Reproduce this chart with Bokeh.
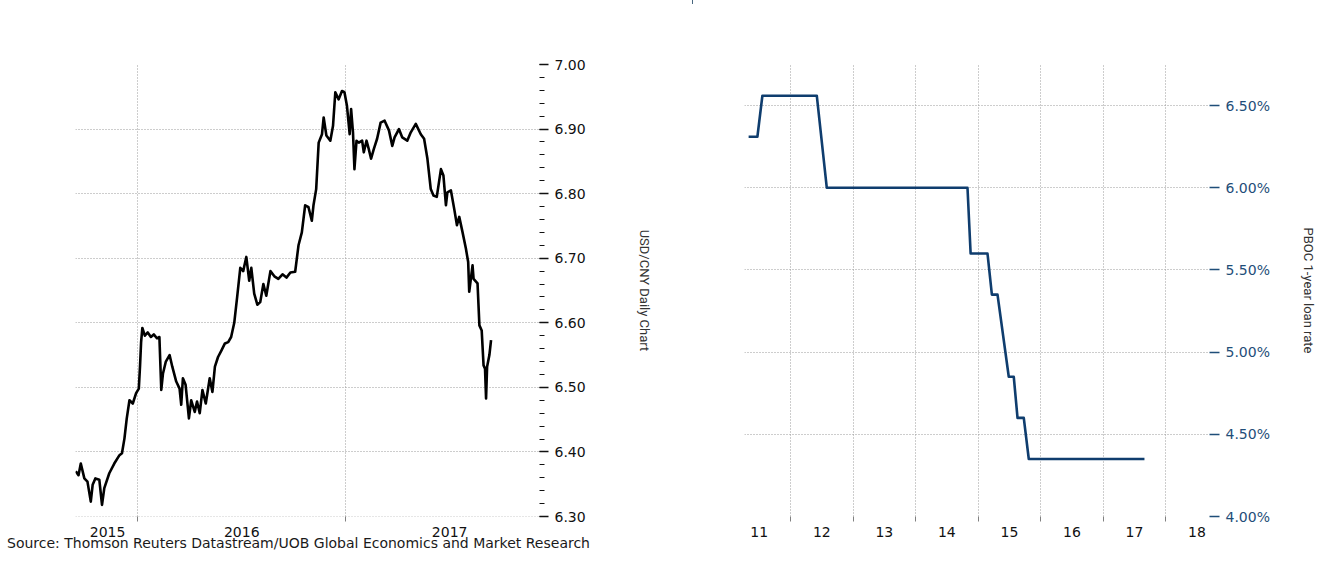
from bokeh.plotting import figure
from bokeh.models import FixedTicker, SingleIntervalTicker, PrintfTickFormatter, Range1d, Div
from bokeh.layouts import row, column
from bokeh.embed import file_html
from bokeh.resources import INLINE

# ---------------- data ----------------
# USD/CNY daily (decimal year, rate)
usd_t = [2015.702, 2015.715, 2015.726, 2015.743, 2015.758, 2015.774, 2015.783, 2015.796, 2015.815, 2015.828,
         2015.839, 2015.863, 2015.887, 2015.912, 2015.924, 2015.936, 2015.947, 2015.960, 2015.976, 2015.992,
         2016.005, 2016.011, 2016.016, 2016.022, 2016.034, 2016.048, 2016.063, 2016.077, 2016.092, 2016.104,
         2016.113, 2016.121, 2016.135, 2016.153, 2016.166, 2016.185, 2016.201, 2016.209, 2016.217, 2016.230,
         2016.246, 2016.257, 2016.274, 2016.285, 2016.298, 2016.311, 2016.327, 2016.346, 2016.359, 2016.371,
         2016.386, 2016.402, 2016.419, 2016.435, 2016.449, 2016.464, 2016.478, 2016.493, 2016.507, 2016.522,
         2016.536, 2016.546, 2016.560, 2016.575, 2016.589, 2016.604, 2016.618, 2016.638, 2016.657, 2016.676,
         2016.696, 2016.715, 2016.734, 2016.757, 2016.773, 2016.789, 2016.805, 2016.821, 2016.837, 2016.845,
         2016.858, 2016.870, 2016.886, 2016.894, 2016.907, 2016.926, 2016.939, 2016.950, 2016.966, 2016.982,
         2016.994, 2017.006, 2017.019, 2017.026, 2017.035, 2017.042, 2017.052, 2017.063, 2017.079, 2017.087,
         2017.100, 2017.111, 2017.122, 2017.135, 2017.151, 2017.168, 2017.187, 2017.208, 2017.224, 2017.235,
         2017.256, 2017.272, 2017.296, 2017.313, 2017.337, 2017.361, 2017.377, 2017.393, 2017.409, 2017.422,
         2017.438, 2017.458, 2017.470, 2017.482, 2017.489, 2017.506, 2017.522, 2017.535, 2017.546, 2017.562,
         2017.578, 2017.589, 2017.594, 2017.610, 2017.615, 2017.634, 2017.643, 2017.654, 2017.663, 2017.670,
         2017.675, 2017.680, 2017.691, 2017.699]
usd_v = [6.370, 6.364, 6.382, 6.359, 6.354, 6.323, 6.349, 6.359, 6.357, 6.318,
         6.344, 6.367, 6.382, 6.395, 6.398, 6.421, 6.452, 6.480, 6.475, 6.491,
         6.498, 6.534, 6.570, 6.592, 6.580, 6.585, 6.578, 6.582, 6.576, 6.578,
         6.496, 6.521, 6.540, 6.550, 6.532, 6.509, 6.498, 6.473, 6.514, 6.504,
         6.452, 6.480, 6.462, 6.478, 6.460, 6.496, 6.475, 6.514, 6.493, 6.532,
         6.547, 6.557, 6.568, 6.570, 6.578, 6.600, 6.640, 6.685, 6.680, 6.702,
         6.665, 6.685, 6.645, 6.628, 6.632, 6.660, 6.642, 6.680, 6.672, 6.668,
         6.675, 6.670, 6.678, 6.679, 6.720, 6.740, 6.782, 6.779, 6.758, 6.782,
         6.807, 6.879, 6.892, 6.918, 6.890, 6.882, 6.905, 6.957, 6.946, 6.959,
         6.957, 6.936, 6.892, 6.931, 6.895, 6.838, 6.882, 6.879, 6.882, 6.864,
         6.882, 6.869, 6.854, 6.869, 6.885, 6.910, 6.913, 6.898, 6.874, 6.887,
         6.900, 6.887, 6.882, 6.895, 6.908, 6.892, 6.885, 6.854, 6.807, 6.797,
         6.795, 6.838, 6.828, 6.782, 6.802, 6.805, 6.776, 6.751, 6.764, 6.740,
         6.715, 6.694, 6.648, 6.689, 6.668, 6.661, 6.596, 6.588, 6.534, 6.529,
         6.483, 6.532, 6.550, 6.573]

# PBOC 1-year lending rate (decimal year, %)
rate_t = [2011.33, 2011.47, 2011.55, 2012.42, 2012.58, 2014.83, 2014.88, 2015.15,
          2015.22, 2015.31, 2015.49, 2015.57, 2015.63, 2015.73, 2015.81, 2017.66]
rate_v = [6.31, 6.31, 6.56, 6.56, 6.00, 6.00, 5.60, 5.60,
          5.35, 5.35, 4.85, 4.85, 4.60, 4.60, 4.35, 4.35]

# axis labelling
left_year_pos = [2015.855, 2016.5, 2017.5]
left_year_lab = ["2015", "2016", "2017"]
left_year_bounds = [2016, 2017]
right_year_pos = [2011.5, 2012.5, 2013.5, 2014.5, 2015.5, 2016.5, 2017.5, 2018.5]
right_year_lab = ["11", "12", "13", "14", "15", "16", "17", "18"]
right_year_bounds = [2012, 2013, 2014, 2015, 2016, 2017, 2018]

source_text = "Source: Thomson Reuters Datastream/UOB Global Economics and Market Research"

n = min(len(usd_t), len(usd_v))
usd_t, usd_v = usd_t[:n], usd_v[:n]

TICK_FONT = "DejaVu Sans"
LABEL_FONT = "Roboto"
GRID = "#9a9a9a"
NAVY = "#0f3d6e"


def style_common(p):
    p.outline_line_color = None
    p.background_fill_color = "white"
    p.border_fill_color = "white"
    for g in (p.xgrid, p.ygrid):
        g.grid_line_color = GRID
        g.grid_line_dash = "1 2"
        g.grid_line_width = 1
    xa = p.xaxis[0]
    xa.axis_line_color = None
    xa.major_tick_out = 0
    xa.major_tick_in = 0
    xa.minor_tick_out = 5
    xa.minor_tick_in = 0
    xa.minor_tick_line_color = "#808080"
    xa.major_label_standoff = 5
    xa.major_label_text_font = TICK_FONT
    xa.major_label_text_font_size = "14px"
    xa.major_label_text_color = "#111111"
    ya = p.yaxis[0]
    ya.axis_line_color = None
    ya.major_tick_in = 0
    ya.minor_tick_in = 0
    ya.major_label_text_font = TICK_FONT
    ya.major_label_text_font_size = "14px"
    ya.axis_label_text_font = LABEL_FONT
    ya.axis_label_text_font_size = "13px"
    ya.axis_label_text_font_style = "normal"
    ya.axis_label_text_color = "#333333"


# ---------------- left: USD/CNY ----------------
p1 = figure(width=697, height=541, title=None,
            x_range=Range1d(2015.7005, 2017.932), y_range=Range1d(6.30, 7.00),
            y_axis_location="right", output_backend="svg", toolbar_location=None,
            min_border_left=80, min_border_right=153, min_border_top=66, min_border_bottom=22)
p1.line(usd_t, usd_v, line_color="black", line_width=2.6, line_join="round")
style_common(p1)
p1.xaxis[0].ticker = FixedTicker(ticks=left_year_pos, minor_ticks=left_year_bounds)
p1.xaxis[0].major_label_overrides = dict(zip(left_year_pos, left_year_lab))
p1.xgrid[0].ticker = FixedTicker(ticks=left_year_bounds)
ya1 = p1.yaxis[0]
ya1.ticker = SingleIntervalTicker(interval=0.1, num_minor_ticks=5)
ya1.formatter = PrintfTickFormatter(format="%.2f")
ya1.major_tick_out = 9
ya1.minor_tick_out = 5
ya1.major_tick_line_width = 1.5
ya1.major_tick_line_color = "#111111"
ya1.minor_tick_line_color = "#111111"
ya1.major_label_standoff = 6
ya1.major_label_text_color = "#111111"
ya1.axis_label = "USD/CNY Daily Chart"
ya1.axis_label_standoff = 48

# ---------------- right: PBOC rate ----------------
p2 = figure(width=629, height=541, title=None,
            x_range=Range1d(2011.264, 2018.70), y_range=Range1d(4.00, 6.75),
            y_axis_location="right", output_backend="svg", toolbar_location=None,
            min_border_left=52, min_border_right=112, min_border_top=66, min_border_bottom=22)
p2.line(rate_t, rate_v, line_color=NAVY, line_width=2.6, line_join="round")
style_common(p2)
p2.xaxis[0].ticker = FixedTicker(ticks=right_year_pos, minor_ticks=right_year_bounds)
p2.xaxis[0].major_label_overrides = dict(zip(right_year_pos, right_year_lab))
p2.xgrid[0].ticker = FixedTicker(ticks=right_year_bounds)
ya2 = p2.yaxis[0]
ya2.ticker = SingleIntervalTicker(interval=0.5, num_minor_ticks=0)
ya2.formatter = PrintfTickFormatter(format="%.2f%%")
ya2.major_tick_out = 10
ya2.minor_tick_out = 0
ya2.major_tick_line_width = 1.5
ya2.major_tick_line_color = "#1f4e79"
ya2.major_label_standoff = 6
ya2.major_label_text_color = "#1f4e79"
ya2.axis_label = "PBOC 1-year loan rate"
ya2.axis_label_standoff = 28

# ---------------- page ----------------
band = Div(text='<div style="width:1329px;height:4px;background:#0b3454;"></div>',
           width=1329, height=4, margin=(0, 0, 0, 0))
src = Div(text=source_text, width=1326, height=9, margin=(0, 0, 0, 0),
          styles={"font-family": "DejaVu Sans", "font-size": "14px", "color": "#1a1a1a",
                  "padding-left": "12px", "line-height": "9px", "white-space": "nowrap"})
inner = column(row(p1, p2, spacing=0), src, spacing=0,
               styles={"border-left": "3px solid #3c3c3c", "border-top": "2px solid #3c3c3c"})
root = column(band, inner, spacing=0, margin=(-8, 0, -8, -8))

open("out.html", "w").write(file_html(root, INLINE))
